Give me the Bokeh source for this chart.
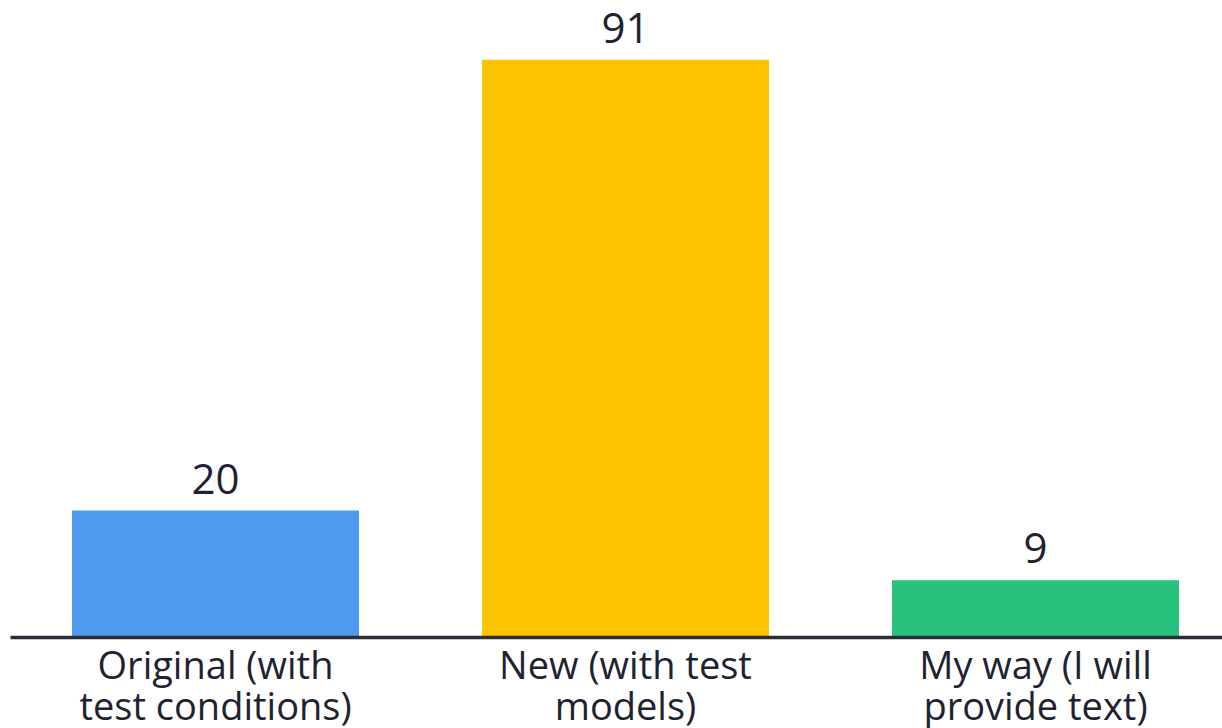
import textwrap
from bokeh.plotting import figure
from bokeh.models import ColumnDataSource, Range1d
from bokeh.core.properties import value
from bokeh.embed import file_html
from bokeh.resources import INLINE

categories = ["Original (with test conditions)", "New (with test models)", "My way (I will provide text)"]
values = [20, 91, 9]
colors = ["#4F99EE", "#FCC300", "#28C27C"]

W, H = 1222, 728
px_per_unit_x = 410.0
first_center_px = 215.0
baseline_px = 637.0  # from top
px_per_unit_y = 6.35

xs = list(range(len(categories)))
lines = [textwrap.wrap(c, width=16) for c in categories]
line1 = [l[0] for l in lines]
line2 = [l[1] if len(l) > 1 else "" for l in lines]

src = ColumnDataSource(dict(x=xs, top=values, color=colors,
                            label=[str(v) for v in values],
                            line1=line1, line2=line2,
                            y0=[0] * len(xs)))

p = figure(width=W, height=H, output_backend="svg", toolbar_location=None,
           min_border=0, outline_line_color=None,
           x_range=Range1d(-first_center_px / px_per_unit_x, (W - first_center_px) / px_per_unit_x),
           y_range=Range1d(-(H - baseline_px) / px_per_unit_y, baseline_px / px_per_unit_y))
p.axis.visible = False
p.grid.visible = False
p.background_fill_color = "white"
p.border_fill_color = "white"

p.vbar(x="x", top="top", bottom=0, width=0.7, color="color", line_color=None, source=src)

p.segment(x0=[-0.5], y0=[0], x1=[len(categories) - 0.5], y1=[0],
          line_color="#2b2e36", line_width=3.5)

p.text(x="x", y="top", text="label", source=src, text_align="center",
       text_baseline="bottom", y_offset=-17, text_font=value("Open Sans"),
       text_font_size="42px", text_color="#1f2330")

p.text(x="x", y="y0", text="line1", source=src, text_align="center",
       text_baseline="alphabetic", y_offset=26, text_font=value("Open Sans"),
       text_font_size="38px", text_color="#1f2330")
p.text(x="x", y="y0", text="line2", source=src, text_align="center",
       text_baseline="alphabetic", y_offset=67, text_font=value("Open Sans"),
       text_font_size="38px", text_color="#1f2330")

open("out.html", "w").write(file_html(p, INLINE))
